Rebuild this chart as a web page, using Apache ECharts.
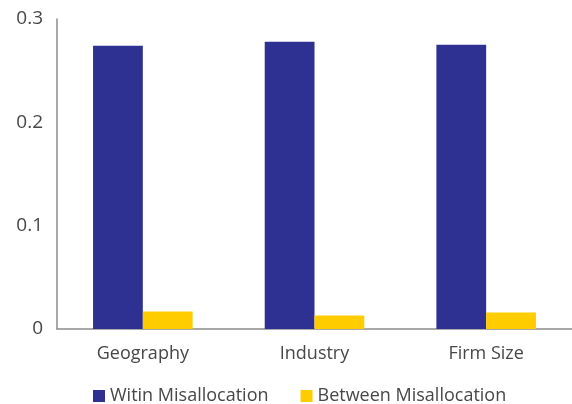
<!DOCTYPE html>
<html>
<head>
<meta charset="utf-8">
<script src="https://cdn.jsdelivr.net/npm/echarts@6/dist/echarts.min.js"></script>
<style>
  html, body { margin: 0; padding: 0; background: #ffffff; }
  #chart { width: 572px; height: 404px; }
</style>
</head>
<body>
<div id="chart"></div>
<script>
// Misallocation decomposition by grouping dimension
const categories = ['Geography', 'Industry', 'Firm Size'];
const withinValues = [0.274, 0.278, 0.275];
const betweenValues = [0.017, 0.013, 0.016];
const seriesNames = ['Witin Misallocation', 'Between Misallocation'];

const textColor = '#474747';
const fontFamily = '"Open Sans", "Noto Sans", sans-serif';

const chart = echarts.init(document.getElementById('chart'));
chart.setOption({
  backgroundColor: '#ffffff',
  animation: false,
  textStyle: { fontFamily: fontFamily },
  grid: { left: 57, right: -9, top: 19, bottom: 75, containLabel: false },
  legend: {
    left: 88,
    top: 382,
    itemWidth: 12,
    itemHeight: 12,
    itemGap: 32,
    itemTextGap: 5,
    icon: 'rect',
    textStyle: { color: textColor, fontSize: 18, fontFamily: fontFamily },
    data: seriesNames
  },
  xAxis: {
    type: 'category',
    data: categories,
    axisLine: { show: true, lineStyle: { color: '#8c8c8c', width: 1.5 } },
    axisTick: { show: false },
    axisLabel: { color: textColor, fontSize: 18, margin: 16, fontFamily: fontFamily },
    splitLine: { show: false }
  },
  yAxis: {
    type: 'value',
    min: 0,
    max: 0.3,
    interval: 0.1,
    axisLine: { show: true, lineStyle: { color: '#8c8c8c', width: 1.5 } },
    axisTick: { show: false },
    splitLine: { show: false },
    axisLabel: {
      color: textColor,
      fontSize: 19,
      margin: 14,
      fontFamily: fontFamily,
      formatter: function (v) { return v === 0 ? '0' : v.toFixed(1); }
    }
  },
  series: [
    {
      name: seriesNames[0],
      type: 'bar',
      data: withinValues,
      barGap: '0%',
      barCategoryGap: '42%',
      itemStyle: { color: '#2e3192' }
    },
    {
      name: seriesNames[1],
      type: 'bar',
      data: betweenValues,
      itemStyle: { color: '#ffcc00' }
    }
  ]
});
</script>
</body>
</html>
